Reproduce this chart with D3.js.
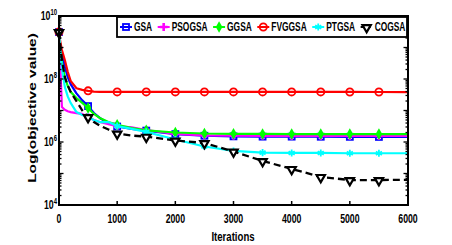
<!DOCTYPE html>
<html><head><meta charset="utf-8">
<script src="https://cdn.jsdelivr.net/npm/d3@7"></script>
<style>
html,body{margin:0;padding:0;background:#fff;}
svg{display:block;}
text{font-family:"Liberation Sans",Arial,Helvetica,sans-serif;font-weight:bold;fill:#000;}
</style></head><body>
<svg id="chart" width="452" height="245"></svg>
<script>
// ---------- data ----------
const iterations = [0,20,50,100,150,200,300,400,500,600,700,850,1000,1250,1500,2000,2500,3000,3500,4000,4500,5000,5500,6000];
const seriesNames = ["GSA","PSOGSA","GGSA","FVGGSA","PTGSA","COGSA"];
const gsa    = [3.1e9,1.0e9,6.8e8,2.5e8,1.15e8,6.9e7,3.5e7,2.1e7,1.38e7,8.3e6,5.8e6,4.0e6,3.1e6,2.6e6,2.3e6,1.78e6,1.58e6,1.51e6,1.48e6,1.48e6,1.47e6,1.46e6,1.45e6,1.45e6];
const psogsa = [3.1e9,3.2e8,1.29e7,1.05e7,9.5e6,8.9e6,8.3e6,7.8e6,6.2e6,5.0e6,4.3e6,3.7e6,3.2e6,2.9e6,2.4e6,1.82e6,1.62e6,1.58e6,1.56e6,1.55e6,1.55e6,1.55e6,1.55e6,1.55e6];
const ggsa   = [3.1e9,1.0e9,3.2e8,1.15e8,6.0e7,3.9e7,2.5e7,1.74e7,1.2e7,7.8e6,5.8e6,4.3e6,3.5e6,2.75e6,2.35e6,2.0e6,1.86e6,1.82e6,1.8e6,1.79e6,1.78e6,1.78e6,1.78e6,1.78e6];
const fvggsa = [3.1e9,1.6e9,8.3e8,4.0e8,1.7e8,8.7e7,5.1e7,4.5e7,4.2e7,4.0e7,3.9e7,3.9e7,3.9e7,3.9e7,3.9e7,3.9e7,3.9e7,3.9e7,3.9e7,3.9e7,3.9e7,3.88e7,3.86e7,3.85e7];
const ptgsa  = [3.1e9,1.0e9,2.2e8,5.6e7,2.8e7,1.74e7,8.9e6,7.2e6,6.2e6,5.0e6,4.3e6,4.3e6,3.2e6,2.6e6,2.1e6,1.2e6,7.2e5,5.2e5,4.6e5,4.5e5,4.5e5,4.4e5,4.4e5,4.4e5];
const cogsa  = [3.1e9,1.26e9,4.0e8,1.15e8,6.3e7,3.9e7,2.0e7,1.0e7,6.2e6,4.3e6,3.3e6,2.5e6,1.86e6,1.6e6,1.48e6,1.12e6,9.3e5,5.0e5,2.5e5,1.4e5,7.8e4,6.2e4,6.2e4,6.3e4];
const xTicks = [0,1000,2000,3000,4000,5000,6000];
const yTickLabels = [1e4,1e6,1e8,1e10];
const xLabel = "Iterations";
const yLabel = "Log(objective value)";

// ---------- styles ----------
const styles = [
  {color:"#0000ff", marker:"square"},
  {color:"#ff00ff", marker:"cross"},
  {color:"#00ff00", marker:"diamond"},
  {color:"#ff0000", marker:"circle"},
  {color:"#00ffff", marker:"asterisk"},
  {color:"#000000", marker:"tridown", dash:"7,4"}
];
const allSeries = [gsa,psogsa,ggsa,fvggsa,ptgsa,cogsa];

const svg = d3.select("#chart");
const L=59, R=408, T=16, B=205;
const SX = 0.7; // horizontal text squeeze

const x = d3.scaleLinear().domain([0,6000]).range([L,R]);
const y = d3.scaleLog().domain([1e4,1e10]).range([B,T]);

const line = d3.line().x(d=>x(d[0])).y(d=>y(d[1]));
const gData = svg.append("g");

function drawMarker(g, type, color, cx, cy){
  if(type==="square"){
    g.append("rect").attr("x",cx-3).attr("y",cy-3).attr("width",6).attr("height",6)
     .attr("fill","none").attr("stroke",color).attr("stroke-width",1.8);
  } else if(type==="cross"){
    g.append("path").attr("d",d3.symbol(d3.symbolCross,34)()).attr("transform",`translate(${cx},${cy})`)
     .attr("fill",color);
  } else if(type==="diamond"){
    g.append("path").attr("d",d3.symbol(d3.symbolDiamond,38)()).attr("transform",`translate(${cx},${cy})`)
     .attr("fill",color);
  } else if(type==="circle"){
    g.append("circle").attr("cx",cx).attr("cy",cy).attr("r",3.6)
     .attr("fill","none").attr("stroke",color).attr("stroke-width",1.8);
  } else if(type==="asterisk"){
    g.append("path").attr("d",d3.symbol(d3.symbolAsterisk,34)()).attr("transform",`translate(${cx},${cy})`)
     .attr("fill","none").attr("stroke",color).attr("stroke-width",1.8);
  } else if(type==="tridown"){
    g.append("path").attr("d",d3.symbol(d3.symbolTriangle,30)()).attr("transform",`translate(${cx},${cy+0.5}) rotate(180)`)
     .attr("fill","#fff").attr("stroke",color).attr("stroke-width",2.2);
  }
}

allSeries.forEach((vals,i)=>{
  const st = styles[i];
  const pts = iterations.map((it,j)=>[it,vals[j]]);
  gData.append("path").attr("d",line(pts)).attr("fill","none")
    .attr("stroke",st.color).attr("stroke-width",st.dash?2.3:2.2)
    .attr("stroke-dasharray",st.dash||null).attr("stroke-linejoin","round");
  const g = gData.append("g");
  pts.filter(p=>p[0]%500===0 && p[0]<6000).forEach(p=>drawMarker(g,st.marker,st.color,x(p[0]),y(p[1])));
});

// axes box
const ax = svg.append("g");
ax.append("rect").attr("x",L).attr("y",T).attr("width",R-L).attr("height",B-T)
  .attr("fill","none").attr("stroke","#000").attr("stroke-width",2);

xTicks.forEach(t=>{
  ax.append("line").attr("x1",x(t)).attr("x2",x(t)).attr("y1",B).attr("y2",B-4).attr("stroke","#000").attr("stroke-width",1.5);
  ax.append("line").attr("x1",x(t)).attr("x2",x(t)).attr("y1",T).attr("y2",T+4).attr("stroke","#000").attr("stroke-width",1.5);
  ax.append("text").attr("transform",`translate(${x(t)},223) scale(${SX},1)`)
    .attr("text-anchor","middle").style("font-size","12.5px").text(t);
});
const yMinor = [];
for(let e=4;e<10;e++){ for(let m=1;m<10;m++){ yMinor.push(m*Math.pow(10,e)); } }
yMinor.push(1e10);
yMinor.forEach(v=>{
  const major = Math.abs(Math.log10(v)-Math.round(Math.log10(v)))<1e-9;
  const len = major?4.5:2.5;
  ax.append("line").attr("x1",L).attr("x2",L+len).attr("y1",y(v)).attr("y2",y(v)).attr("stroke","#000").attr("stroke-width",1.3);
  ax.append("line").attr("x1",R).attr("x2",R-len).attr("y1",y(v)).attr("y2",y(v)).attr("stroke","#000").attr("stroke-width",1.3);
});
yTickLabels.forEach(v=>{
  const t = ax.append("text").attr("transform",`translate(57,${y(v)+4}) scale(${SX},1)`)
    .attr("text-anchor","end").style("font-size","12.5px");
  t.append("tspan").text("10");
  t.append("tspan").attr("dy",-5).style("font-size","8.5px").text(Math.round(Math.log10(v)));
});

svg.append("text").attr("transform",`translate(233,241) scale(0.74,1)`)
  .attr("text-anchor","middle").style("font-size","13px").text(xLabel);
svg.append("text").attr("transform",`translate(36,108) scale(0.75,1) rotate(-90)`)
  .attr("text-anchor","middle").style("font-size","15.5px").text(yLabel);

// legend
const lg = svg.append("g");
lg.append("rect").attr("x",117).attr("y",17).attr("width",290).attr("height",20)
  .attr("fill","#fff").attr("stroke","#000").attr("stroke-width",1.8);
let cx = 120;
seriesNames.forEach((name,i)=>{
  const st = styles[i];
  const cy = 27;
  lg.append("line").attr("x1",cx).attr("x2",cx+12).attr("y1",cy).attr("y2",cy)
    .attr("stroke",st.color).attr("stroke-width",2).attr("stroke-dasharray",st.dash?"4,2":null);
  drawMarker(lg, st.marker, st.color, cx+6, cy);
  const t = lg.append("text").attr("transform",`translate(${cx+14},${cy+4.2}) scale(${SX},1)`)
    .style("font-size","12px").text(name);
  const w = t.node().getComputedTextLength()*SX;
  cx += 14 + w + 5.5;
});
</script>
</body></html>
